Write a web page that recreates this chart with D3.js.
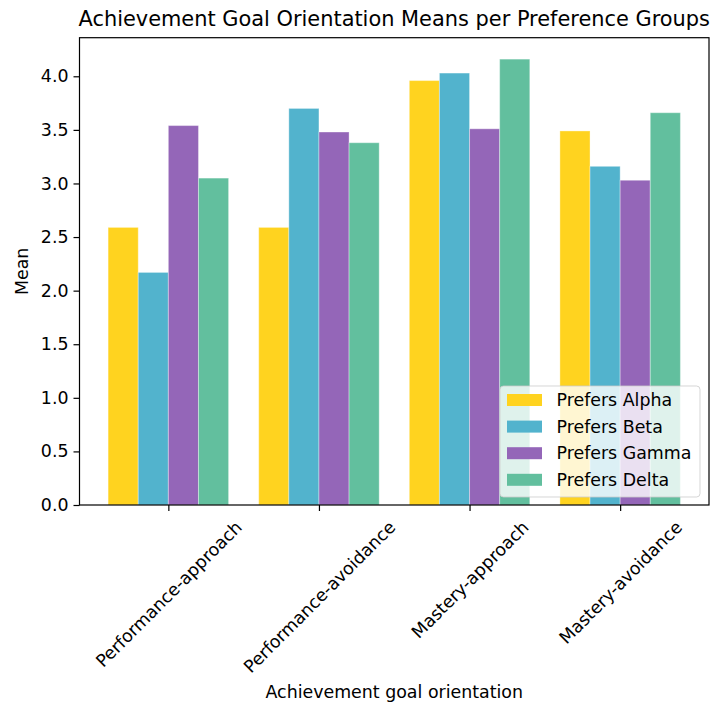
<!DOCTYPE html>
<html>
<head>
<meta charset="utf-8">
<script src="https://cdn.jsdelivr.net/npm/d3@7"></script>
<style>
  body { margin: 0; background: #fff; }
  text { font-family: "DejaVu Sans", sans-serif; fill: #000; }
</style>
</head>
<body>
<main></main>
<script>
const width = 712, height = 706;

// data
const categories = ["Performance-approach", "Performance-avoidance", "Mastery-approach", "Mastery-avoidance"];
const groups = ["Prefers Alpha", "Prefers Beta", "Prefers Gamma", "Prefers Delta"];
const alpha = [2.59, 2.59, 3.96, 3.49];
const beta = [2.17, 3.70, 4.03, 3.16];
const gamma = [3.54, 3.48, 3.51, 3.03];
const delta = [3.05, 3.38, 4.16, 3.66];
const colors = ["#FFD31F", "#52B3CD", "#9466B8", "#62BF9E"];
const yTicks = [0, 0.5, 1, 1.5, 2, 2.5, 3, 3.5, 4];

const series = [alpha, beta, gamma, delta];
const barW = 0.2;

const plotL = 79.5, plotR = 709, plotT = 37.7, plotB = 505;
const fs = 17.4;

const svg = d3.select("main").append("svg")
    .attr("width", width)
    .attr("height", height);

const x = d3.scaleLinear().domain([-0.59, 3.59]).range([plotL, plotR]);
const y = d3.scaleLinear().domain([0, 4.36]).range([plotB, plotT]);

// bars
series.forEach((vals, i) => {
  svg.append("g")
    .selectAll("rect")
    .data(vals)
    .enter()
    .append("rect")
      .attr("x", (d, j) => x(j + (i - 2) * barW))
      .attr("width", x(barW) - x(0))
      .attr("y", d => y(d))
      .attr("height", d => y(0) - y(d))
      .attr("fill", colors[i])
      .attr("stroke", "#fff")
      .attr("stroke-opacity", 0.35)
      .attr("stroke-width", 1);
});

// y axis
const yAxis = svg.append("g")
    .attr("transform", "translate(" + plotL + ",0)")
    .call(d3.axisLeft(y).tickValues(yTicks).tickFormat(d3.format(".1f")).tickSize(6).tickPadding(5));
yAxis.select(".domain").remove();
yAxis.selectAll("text").style("font-size", fs + "px").attr("fill", "#000");
yAxis.selectAll("line").attr("stroke", "#000").attr("stroke-width", 1.2);

// x axis
const xAxis = svg.append("g")
    .attr("transform", "translate(0," + plotB + ")")
    .call(d3.axisBottom(x).tickValues([0, 1, 2, 3]).tickFormat(i => categories[i]).tickSize(6));
xAxis.select(".domain").remove();
xAxis.selectAll("line").attr("stroke", "#000").attr("stroke-width", 1.2);
xAxis.selectAll("text")
    .style("font-size", fs + "px")
    .attr("fill", "#000")
    .attr("text-anchor", "middle")
    .attr("dy", null)
    .attr("y", 0)
    .attr("dominant-baseline", "central")
    .attr("transform", function (d) {
      const w = this.getComputedTextLength();
      const h = fs * 1.16;
      const H = (w + h) * Math.SQRT1_2;
      return "translate(0," + (12 + H / 2) + ") rotate(-45)";
    });

// frame
svg.append("rect")
    .attr("x", plotL)
    .attr("y", plotT)
    .attr("width", plotR - plotL)
    .attr("height", plotB - plotT)
    .attr("fill", "none")
    .attr("stroke", "#000")
    .attr("stroke-width", 1.2);

// labels
svg.append("text")
    .attr("x", (plotL + plotR) / 2)
    .attr("y", 26)
    .attr("text-anchor", "middle")
    .style("font-size", "20.9px")
    .text("Achievement Goal Orientation Means per Preference Groups");

svg.append("text")
    .attr("x", (plotL + plotR) / 2)
    .attr("y", 698)
    .attr("text-anchor", "middle")
    .style("font-size", fs + "px")
    .text("Achievement goal orientation");

svg.append("text")
    .attr("transform", "translate(28," + (plotT + plotB) / 2 + ") rotate(-90)")
    .attr("text-anchor", "middle")
    .style("font-size", fs + "px")
    .text("Mean");

// legend
const legend = svg.append("g").attr("transform", "translate(500,386)");
legend.append("rect")
    .attr("width", 200)
    .attr("height", 111)
    .attr("rx", 3.5)
    .attr("fill", "#fff")
    .attr("fill-opacity", 0.8)
    .attr("stroke", "#ccc")
    .attr("stroke-opacity", 0.8);

const item = legend.selectAll(".item")
    .data(groups)
    .enter()
    .append("g")
    .attr("class", "item")
    .attr("transform", (d, i) => "translate(0," + (14 + i * 26.6) + ")");
item.append("rect")
    .attr("x", 7)
    .attr("y", -6)
    .attr("width", 35)
    .attr("height", 12)
    .attr("fill", (d, i) => colors[i]);
item.append("text")
    .attr("x", 56.5)
    .attr("dy", "0.35em")
    .style("font-size", fs + "px")
    .text(d => d);
</script>
</body>
</html>
